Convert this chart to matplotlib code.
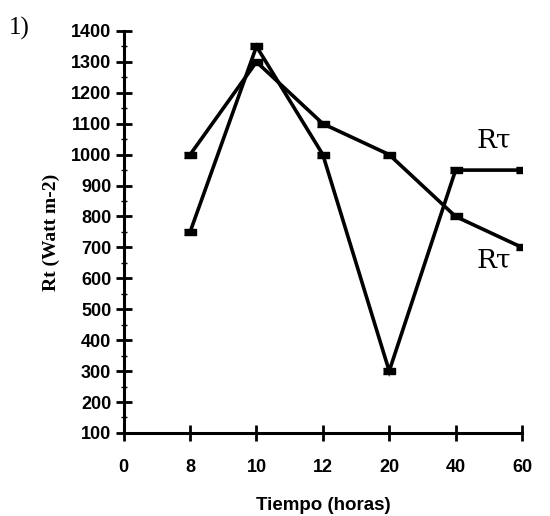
import matplotlib
matplotlib.use("Agg")
import matplotlib.pyplot as plt
from matplotlib.ticker import MultipleLocator

categories = ["0", "8", "10", "12", "20", "40", "60"]
series_a = [1000, 1300, 1100, 1000, 800, 700]   # hours 8..60
series_b = [750, 1350, 1000, 300, 950, 950]
y_ticks = list(range(100, 1401, 100))

fig = plt.figure(figsize=(5.5, 5.16), dpi=100)
ax = fig.add_axes([0.225, 0.161, 0.724, 0.779])

xpos = list(range(1, len(categories)))
rect = [(-1, -0.55), (1, -0.55), (1, 0.55), (-1, 0.55)]
for s in (series_a, series_b):
    ax.plot(xpos, s, color="black", lw=2.6, marker=rect, markersize=8,
            markerfacecolor="black", markeredgecolor="black", solid_joinstyle="miter")

ax.set_xlim(0, len(categories) - 1)
ax.set_ylim(100, 1400)
ax.set_xticks(range(len(categories)))
ax.set_xticklabels(categories)
ax.set_yticks(y_ticks)
ax.yaxis.set_minor_locator(MultipleLocator(50))
for sp in ("top", "right"):
    ax.spines[sp].set_visible(False)
for sp in ("left", "bottom"):
    ax.spines[sp].set_linewidth(2.2)
ax.tick_params(axis="both", which="major", direction="inout", length=12, width=2,
               labelsize=13, pad=3)
ax.tick_params(axis="y", which="minor", direction="inout", length=4, width=1)
ax.tick_params(axis="x", pad=13)
for lab in ax.get_xticklabels() + ax.get_yticklabels():
    lab.set_fontfamily("Liberation Sans")
    lab.set_fontweight("bold")

ax.set_xlabel("Tiempo (horas)", fontfamily="Liberation Sans", fontweight="bold",
              fontsize=13.5, labelpad=15)
ax.set_ylabel("Rt (Watt m-2)", fontfamily="Liberation Serif", fontweight="bold",
              fontsize=14, labelpad=8)

ax.text(5.57, 1047, "Rτ", fontsize=19, fontfamily="DejaVu Serif", ha="center", va="center")
ax.text(5.57, 659, "Rτ", fontsize=19, fontfamily="DejaVu Serif", ha="center", va="center")
fig.text(0.016, 0.968, "1)", fontsize=18, fontfamily="Liberation Serif", va="top", ha="left")

fig.savefig("out.png", dpi=100)
